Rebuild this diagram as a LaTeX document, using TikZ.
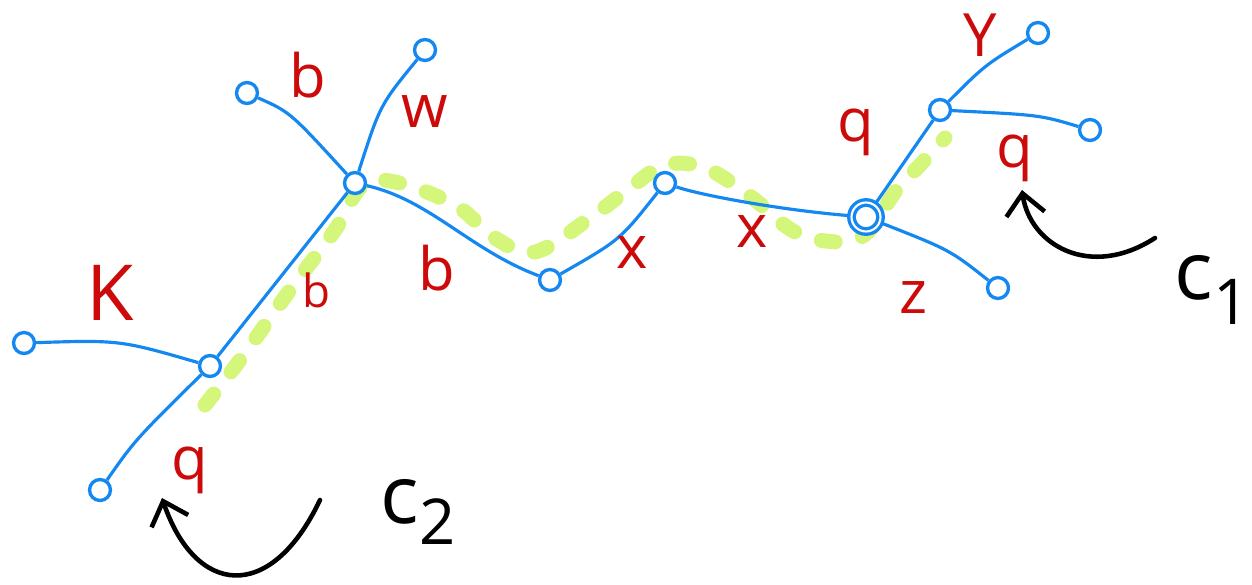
\documentclass[tikz,border=0pt]{standalone}
\usepackage{fontspec}
\setmainfont{Open Sans}
\usetikzlibrary{arrows.meta}

\definecolor{treeblue}{RGB}{20,135,240}
\definecolor{labelred}{RGB}{205,10,10}
\definecolor{pathgreen}{RGB}{212,246,122}

\begin{document}
\begin{tikzpicture}[
  % --- one unit = one pixel of the sketch, y grows downwards
  x=0.02cm, y=-0.02cm,
  % --- tree styling
  vertex/.style={circle, draw=treeblue, line width=1.9pt, fill=white,
                 minimum size=0.42cm, inner sep=0pt},
  forkvertex/.style={vertex, minimum size=0.58cm, double=white,
                     double distance=1.2pt},
  edge/.style={draw=treeblue, line width=1.8pt},
  lbl/.style={text=labelred, font=\fontsize{34}{36}\selectfont, inner sep=0pt},
  % --- highlighted path and pointers
  cyclepath/.style={draw=pathgreen, line width=8.5pt, line cap=round,
                    dash pattern=on 8pt off 16pt},
  pointer/.style={draw=black, line width=2.6pt, line cap=round,
                  -{Straight Barb[length=12pt, width=22pt, line width=2.6pt]}},
  cname/.style={font=\fontsize{46}{48}\selectfont, inner sep=0pt},
]
\useasboundingbox (0,0) rectangle (1252,585);

%========================
% Highlighted path (drawn first, under the tree)
%========================
\draw[cyclepath] plot[smooth, tension=0.6] coordinates {
  (205,405) (240,360) (290,290) (335,230) (362,186) (395,182) (455,205)
  (495,238) (535,252) (590,218) (630,188) (665,165) (705,168) (750,196)
  (795,232) (840,242) (868,232) (895,192) (920,165) (945,138)};

%========================
% Vertices
%========================
\node[vertex]     (leafQ)  at (100,490) {};
\node[vertex]     (knot)   at (210,366) {};
\node[vertex]     (leafK)  at (24,343)  {};
\node[vertex]     (hub)    at (355,183) {};
\node[vertex]     (leafB)  at (247,93)  {};
\node[vertex]     (leafW)  at (425,50)  {};
\node[vertex]     (dip)    at (550,280) {};
\node[vertex]     (peak)   at (665,183) {};
\node[forkvertex] (fork)   at (866,217) {};
\node[vertex]     (branch) at (940,110) {};
\node[vertex]     (leafY)  at (1038,33) {};
\node[vertex]     (leafQr) at (1090,130) {};
\node[vertex]     (leafZ)  at (998,288) {};

%========================
% Edges
%========================
\draw[edge] (leafQ) .. controls (135,440) .. (knot);
\draw[edge] (leafK) .. controls (120,340) .. (knot);
\draw[edge] (knot) -- (hub);
\draw[edge] (leafB) .. controls (290,112) .. (hub);
\draw[edge] (leafW) .. controls (380,105) .. (hub);
\draw[edge] (hub) .. controls (430,200) and (470,250) .. (dip);
\draw[edge] (dip) .. controls (620,240) .. (peak);
\draw[edge] (peak) .. controls (700,195) and (780,210) .. (fork);
\draw[edge] (fork) .. controls (905,162) .. (branch);
\draw[edge] (branch) .. controls (985,65) .. (leafY);
\draw[edge] (branch) .. controls (1040,115) .. (leafQr);
\draw[edge] (fork) .. controls (950,250) .. (leafZ);

%========================
% Edge labels
%========================
\node[lbl] (labB1) at (308,75)  {b};
\node[lbl] (labW)  at (425,112) {w};
\node[lbl, font=\fontsize{44}{46}\selectfont] (labK) at (110,293) {K};
\node[lbl, font=\fontsize{26}{28}\selectfont] (labB2) at (316,290) {b};
\node[lbl] (labB3) at (437,268) {b};
\node[lbl] (labX1) at (632,253) {x};
\node[lbl] (labX2) at (752,232) {x};
\node[lbl] (labQ1) at (856,132) {q};
\node[lbl] (labY)  at (980,35)  {Y};
\node[lbl] (labQ2) at (1015,158) {q};
\node[lbl] (labZ)  at (913,298) {z};
\node[lbl] (labQ3) at (190,470) {q};

%========================
% Cycle pointers
%========================
\coordinate (c2start) at (320,500);
\coordinate (c2tip)   at (162,498);
\draw[pointer] (c2start) .. controls (270,605) and (195,595) .. (c2tip);
\node[cname] (cTwo) at (418,512) {c\raisebox{-12pt}{\fontsize{36}{38}\selectfont 2}};

\coordinate (c1start) at (1155,238);
\coordinate (c1tip)   at (1022,190);
\draw[pointer] (c1start) .. controls (1090,280) and (1030,245) .. (c1tip);
\node[cname] (cOne) at (1212,290) {c\raisebox{-14pt}{\fontsize{36}{38}\selectfont 1}};

\end{tikzpicture}
\end{document}
